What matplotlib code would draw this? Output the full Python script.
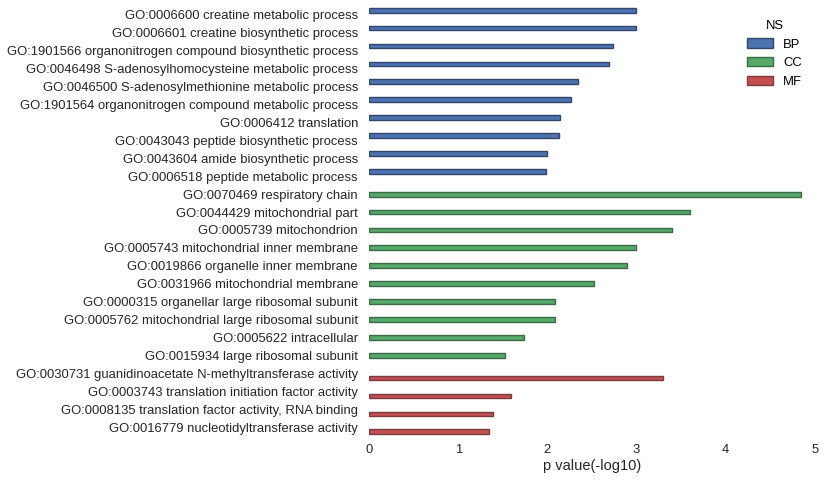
import matplotlib
matplotlib.use('Agg')
import matplotlib.pyplot as plt
import numpy as np
from matplotlib.patches import Patch

terms = [
    'GO:0006600 creatine metabolic process',
    'GO:0006601 creatine biosynthetic process',
    'GO:1901566 organonitrogen compound biosynthetic process',
    'GO:0046498 S-adenosylhomocysteine metabolic process',
    'GO:0046500 S-adenosylmethionine metabolic process',
    'GO:1901564 organonitrogen compound metabolic process',
    'GO:0006412 translation',
    'GO:0043043 peptide biosynthetic process',
    'GO:0043604 amide biosynthetic process',
    'GO:0006518 peptide metabolic process',
    'GO:0070469 respiratory chain',
    'GO:0044429 mitochondrial part',
    'GO:0005739 mitochondrion',
    'GO:0005743 mitochondrial inner membrane',
    'GO:0019866 organelle inner membrane',
    'GO:0031966 mitochondrial membrane',
    'GO:0000315 organellar large ribosomal subunit',
    'GO:0005762 mitochondrial large ribosomal subunit',
    'GO:0005622 intracellular',
    'GO:0015934 large ribosomal subunit',
    'GO:0030731 guanidinoacetate N-methyltransferase activity',
    'GO:0003743 translation initiation factor activity',
    'GO:0008135 translation factor activity, RNA binding',
    'GO:0016779 nucleotidyltransferase activity',
]
ns = ['BP'] * 10 + ['CC'] * 10 + ['MF'] * 4
pvalues = [2.99, 2.99, 2.735, 2.69, 2.34, 2.265, 2.14, 2.13, 2.0, 1.98,
           4.84, 3.60, 3.40, 2.99, 2.89, 2.52, 2.085, 2.085, 1.74, 1.52,
           3.30, 1.59, 1.39, 1.345]

ns_order = ['BP', 'CC', 'MF']
colors = {'BP': '#4C72B0', 'CC': '#55A868', 'MF': '#C44E52'}
edges = {'BP': '#34466b', 'CC': '#3d6a47', 'MF': '#7c3c3e'}

plt.rcParams['font.family'] = ['Liberation Sans', 'DejaVu Sans']
fs = 9.4

fig = plt.figure(figsize=(8.25, 4.83), dpi=100)
ax = fig.add_axes([369 / 825, 1 - 436 / 483, 446 / 825, 430 / 483])

w = 0.8 / 3
pos = np.arange(len(terms))
for i, (t, n, v) in enumerate(zip(terms, ns, pvalues)):
    k = ns_order.index(n)
    ax.barh(pos[i] + (k - 1) * w, v, height=w, color=colors[n],
            edgecolor=edges[n], linewidth=1)

ax.set_yticks(pos)
ax.set_yticklabels(terms, fontsize=fs, color='#262626')
ax.set_ylim(len(terms) - 0.5, -0.5)
ax.set_xlim(0, 5)
ax.set_xticks(range(6))
ax.tick_params(axis='x', labelsize=fs, labelcolor='#262626', length=0, pad=6)
ax.tick_params(axis='y', length=0, pad=8)
ax.set_xlabel('p value(-log10)', fontsize=10.5, color='#262626', labelpad=2)
for s in ax.spines.values():
    s.set_visible(False)

handles = [Patch(facecolor=colors[n], edgecolor=edges[n], label=n) for n in ns_order]
leg = ax.legend(handles=handles, title='NS', loc='upper right', frameon=False,
                fontsize=fs, title_fontsize=fs, labelspacing=0.5,
                bbox_to_anchor=(0.998, 0.995))

fig.savefig('out.png', dpi=100)
